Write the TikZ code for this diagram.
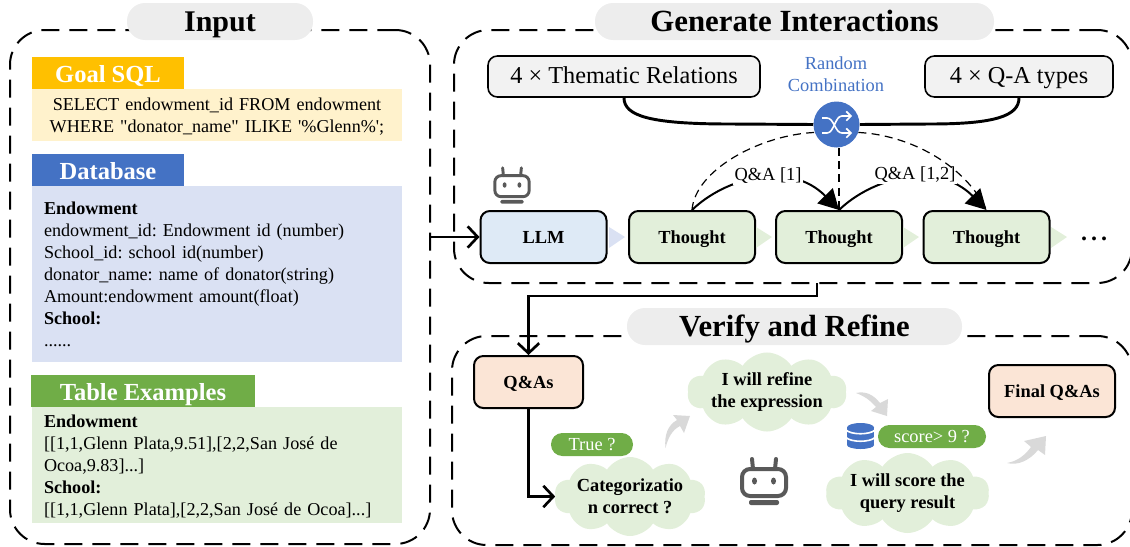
\documentclass[tikz,border=0pt]{standalone}
\usepackage{fontspec}
\setmainfont{Liberation Serif}
\newfontfamily\plainserif{Liberation Serif}
\usetikzlibrary{arrows.meta,shapes.symbols,calc}
\definecolor{pillgrey}{HTML}{EDEDED}
\definecolor{cYellow}{HTML}{FFC000}
\definecolor{cYellowL}{HTML}{FFF2CC}
\definecolor{cBlue}{HTML}{4472C4}
\definecolor{cBlueL}{HTML}{DAE1F3}
\definecolor{cGreen}{HTML}{70AD47}
\definecolor{cGreenL}{HTML}{E2EFDA}
\definecolor{cOrangeL}{HTML}{FBE5D6}
\definecolor{cLLM}{HTML}{DEEAF6}
\definecolor{cBox}{HTML}{F2F2F2}
\definecolor{cGrey}{HTML}{D9D9D9}
\definecolor{cBot}{HTML}{595959}
\tikzset{
  sz/.style 2 args={minimum width=#1*.75pt,minimum height=#2*.75pt},
  frame/.style={draw=black,line width=1.5pt,dash pattern=on 13.5pt off 7.5pt,rounded corners=26pt,inner sep=0pt},
  pill/.style={fill=pillgrey,rounded corners=13.5pt,inner sep=0pt,text depth=0pt,font=\fontsize{23}{27}\selectfont\bfseries},
  header/.style={inner sep=0pt,text=white,text height=14.25pt,text depth=0pt,font=\fontsize{18.4}{22}\selectfont\bfseries},
  panel/.style={inner xsep=9pt,inner ysep=0pt,text width=259.5pt,font=\fontsize{13.6}{16.5}\selectfont},
  flowbox/.style={draw=black,line width=1.5pt,rounded corners=7pt,inner sep=0pt,text height=9.45pt,text depth=0pt,font=\fontsize{13.8}{16.5}\selectfont\bfseries},
  typebox/.style={draw=black,line width=1.2pt,fill=cBox,rounded corners=7pt,inner sep=0pt,text height=10.2pt,text depth=0pt,font=\fontsize{18.2}{22}\selectfont},
  thoughtcloud/.style={cloud,cloud puffs=10,cloud puff arc=115,cloud ignores aspect,fill=cGreenL,inner sep=0pt,align=center,font=\fontsize{13.8}{16.5}\selectfont\bfseries},
  tag/.style={fill=cGreen,text=white,rounded corners=8.5pt,inner sep=0pt,text height=9.45pt,text depth=0pt,font=\fontsize{13.8}{16.5}\selectfont},
  lab/.style={fill=white,inner xsep=1pt,inner ysep=1pt,font=\fontsize{13.8}{16.5}\selectfont},
  flowline/.style={line width=2pt,-{Straight Barb[length=7.5pt,width=16pt,line width=2pt]}},
  bigtip/.style={line width=1.5pt,-{Triangle[length=15pt,width=16pt]}},
  dashlink/.style={line width=.9pt,dash pattern=on 6pt off 4pt},
  greyarrow/.style={fill=cGrey}
}
\newcommand{\botface}[4]{% cx, cy, scale, line width
  \begin{scope}[shift={(#1,#2)},x=#3*.75pt,y=-#3*.75pt,cBot]
    \draw[line width=#4,rounded corners=6pt*#3] (-22,-12) rectangle (22,15);
    \draw[line width=#4,line cap=round] (-11,-12) -- (-12,-22);
    \draw[line width=#4,line cap=round] (11,-12) -- (12,-22);
    \fill (-9.5,0) ellipse (2.5 and 3.5);
    \fill (9.5,0) ellipse (2.5 and 3.5);
    \fill[rounded corners=1.5pt*#3] (-15,19) rectangle (15,24);
  \end{scope}}
\begin{document}
\begin{tikzpicture}[x=.75pt,y=-.75pt]
\frenchspacing
\useasboundingbox (0,0) rectangle (1130,546);
\clip (0,0) rectangle (1130,546);
% frames
\node[frame,sz={420}{514}] (inframe) at (220,287) {};
\node[frame,sz={678}{253}] (genframe) at (793,156.5) {};
\node[frame,sz={680}{209}] (verframe) at (792,440.5) {};
% titles
\node[pill,sz={186}{37},text height=15.3pt] (tinput) at (220,21.5) {\fontsize{22.5}{27}\selectfont Input};
\node[pill,sz={399}{37},text height=15pt] (tgen) at (794.5,21.5) {\fontsize{23.1}{28}\selectfont Generate Interactions};
\node[pill,sz={335}{37},text height=14.4pt] (tver) at (794.5,326.5) {Verify and Refine};
% left panels
\node[panel,fill=cYellowL,sz={370}{52},align=center] (goalbody) at (217,115) {\plainserif\rule{0pt}{12pt}SELECT endowment\_id FROM endowment\\\plainserif WHERE "donator\_name" ILIKE '\%Glenn\%';};
\node[header,fill=cYellow,sz={152}{32}] (goalhead) at (108,73) {Goal SQL};
\node[panel,fill=cBlueL,sz={370}{176},align=left] (dbbody) at (217,274) {\textbf{Endowment}\\endowment\_id: Endowment id (number)\\School\_id: school id(number)\\donator\_name: name of donator(string)\\Amount:endowment amount(float)\\\textbf{School:}\\......};
\node[header,fill=cBlue,sz={152}{32}] (dbhead) at (108,170) {Database};
\node[panel,fill=cGreenL,sz={370}{116},align=left] (exbody) at (217,465) {\rule{0pt}{12pt}\textbf{Endowment}\\{[}[1,1,Glenn Plata,9.51],[2,2,San José de\\Ocoa,9.83]...]\\\textbf{School:}\\{[}[1,1,Glenn Plata],[2,2,San José de Ocoa]...]};
\node[header,fill=cGreen,sz={224}{32}] (exhead) at (143,391) {Table Examples};
% top row
\node[typebox,sz={272}{41}] (thematic) at (624,76.5) {4 × Thematic Relations};
\node[typebox,sz={188}{41}] (qatypes) at (1019,76.5) {4 × Q-A types};
\node[text=cBlue,align=center,font=\fontsize{13.8}{16.5}\selectfont] (randcomb) at (836,74) {Random\\Combination};
\node[circle,fill=cBlue,minimum size=46*.75pt,inner sep=0pt] (shuffle) at (836.5,124.5) {};
\draw[line width=2.2pt] (thematic.south) .. controls (624,116) and (650,124) .. (730,124) -- (shuffle.west);
\draw[line width=2.2pt] (qatypes.south) .. controls (1019,116) and (995,124) .. (930,124) -- (shuffle.east);
\draw[white,line width=1.2pt,-{Straight Barb[length=3.5pt,width=7pt,line width=1.2pt]}] (822,118) -- (827,118) .. controls (834,118) and (835,133) .. (842,133) -- (852,133);
\draw[white,line width=1.2pt,-{Straight Barb[length=3.5pt,width=7pt,line width=1.2pt]}] (822,133) -- (827,133) .. controls (834,133) and (835,116) .. (842,116) -- (852,116);
% flow row
\node[flowbox,fill=cLLM,sz={126}{52}] (llm) at (543.5,237) {LLM};
\node[flowbox,fill=cGreenL,sz={126}{52}] (th1) at (692,237) {Thought};
\node[flowbox,fill=cGreenL,sz={126}{52}] (th2) at (839,237) {Thought};
\node[flowbox,fill=cGreenL,sz={126}{52}] (th3) at (986.5,237) {Thought};
\node[font=\fontsize{18}{20}\selectfont\bfseries] (more) at (1094,239) {.\kern3pt.\kern3pt.};
\fill[cBlueL] (609,227) -- (625,237) -- (609,248) -- cycle;
\fill[cGreenL] (756,227) -- (772,237) -- (756,248) -- cycle;
\fill[cGreenL] (903,227) -- (919,237) -- (903,248) -- cycle;
\fill[cGreenL] (1051,227) -- (1067,237) -- (1051,248) -- cycle;
% Q&A links
\draw[bigtip] (th1.north) .. controls (725,178) and (790,160) .. (th2.north);
\draw[bigtip] (th2.north) .. controls (872,178) and (937,160) .. (th3.north);
\node[lab] (qa1) at (768,176) {Q\&A [1]};
\node[lab] (qa2) at (915,175) {Q\&A [1,2]};
\draw[dashlink] (th1.north) .. controls (695,170) and (760,135) .. (shuffle.200);
\draw[dashlink] (shuffle.-20) .. controls (910,135) and (965,165) .. (th3.north);
\draw[dashlink] (shuffle.south -| th2.north) -- (th2.north);
\botface{512}{185}{.78}{2.2pt}
% input to LLM
\coordinate (instart) at (430,237);
\draw[flowline] (instart) -- (llm.west);
% gen to verify
\coordinate (genout) at (817,283);
\node[flowbox,fill=cOrangeL,sz={109}{52}] (qas) at (528.5,382) {Q\&As};
\node[flowbox,fill=cOrangeL,sz={126}{52}] (final) at (1052,391) {Final Q\&As};
\coordinate (bend) at (817,296);
\draw[flowline] (genout) -- (bend) -| (qas.north);
% clouds
\node[thoughtcloud,sz={124}{79}] (cloudcat) at (630,496.5) {Categorizatio\\n correct ?};
\node[thoughtcloud,sz={146}{79}] (cloudref) at (767,392) {I will refine\\the expression};
\node[thoughtcloud,sz={163}{80}] (cloudscore) at (907.5,493) {I will score the\\query result};
\draw[flowline] (qas.south) |- (cloudcat.west);
\node[tag,sz={82}{23}] (truetag) at (592,444.5) {True ?};
\node[tag,sz={108}{23}] (scoretag) at (932,436.5) {score> 9 ?};
% database icon
\fill[cBlue] (860.5,427.5) ellipse (13.5 and 4.5);
\fill[cBlue] (860.5,445) ellipse (13.5 and 4);
\fill[cBlue] (847,427.5) rectangle (874,445);
\draw[white,line width=1.2pt] (846,430) .. controls (851,435) and (870,435) .. (875,430);
\draw[white,line width=1.2pt] (846,437.5) .. controls (851,442.5) and (870,442.5) .. (875,437.5);
\botface{764}{481}{1}{3pt}
% grey arrows
\fill[greyarrow] (665.5,448) .. controls (664,435) and (668,425) .. (677,420) -- (673,415) -- (690,416) -- (684,433) -- (680,426) .. controls (672,430) and (668,438) .. (665.5,448) -- cycle;
\fill[greyarrow] (856,393) .. controls (865,391) and (873,394) .. (880,403) -- (888,399) -- (887,416) -- (871,411) -- (876,407) .. controls (870,400) and (864,396) .. (856,393) -- cycle;
\fill[greyarrow] (1007,463) .. controls (1018,461) and (1025,455) .. (1031,447) -- (1024,441) -- (1046,436) -- (1045,455) -- (1038,450) .. controls (1030,460) and (1018,466) .. (1007,463) -- cycle;
\end{tikzpicture}
\end{document}
